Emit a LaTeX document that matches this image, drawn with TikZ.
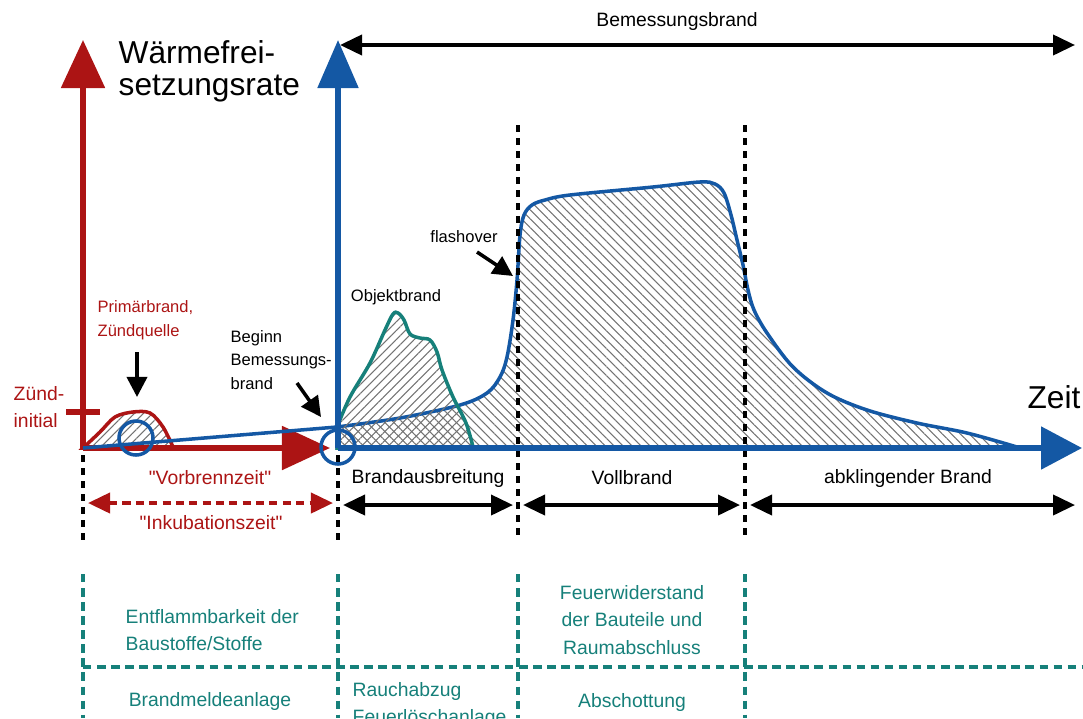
\documentclass[tikz,border=0pt]{standalone}
\usepackage{fontspec}
\setmainfont{Liberation Sans}
\usetikzlibrary{arrows.meta,patterns.meta}
\definecolor{fbred}{RGB}{172,20,20}
\definecolor{fbblue}{RGB}{20,88,164}
\definecolor{fbteal}{RGB}{22,128,122}

\begin{document}
\begin{tikzpicture}[x=0.01cm,y=-0.01cm,
  big/.style={font=\fontsize{9}{9.2}\selectfont, inner sep=0pt},
  small/.style={font=\fontsize{5.5}{7.7}\selectfont, inner sep=0pt},
  tiny/.style={font=\fontsize{4.7}{6.8}\selectfont, inner sep=0pt, align=left},
  pointer/.style={-{Triangle[length=0.2cm,width=0.2cm]}, line width=1pt},
  span/.style={{Triangle[length=0.22cm,width=0.2cm]}-{Triangle[length=0.22cm,width=0.2cm]}, line width=1.1pt},
  phase/.style={line width=1.4pt, dash pattern=on 2pt off 1.7pt},
  field/.style={fbteal, line width=1.2pt, dash pattern=on 2.4pt off 1.6pt},
  hatchA/.style={pattern={Lines[angle=-45,distance=1.8pt,line width=0.3pt]}, pattern color=gray!90!black},
  hatchB/.style={pattern={Lines[angle=45,distance=1.8pt,line width=0.3pt]}, pattern color=gray!90!black},
  ring/.style={draw=fbblue, circle, minimum size=0.34cm, inner sep=0pt, line width=1pt}]
\useasboundingbox (0,0) rectangle (1083,718);

% axes origins and tips
\coordinate (O1) at (83,448);
\coordinate (O2) at (338,448);
\coordinate (redtop) at (83,40);
\coordinate (redend) at (330,448);
\coordinate (bluetop) at (338,40);
\coordinate (blueend) at (1082,448);
\coordinate (start) at (337,427);

% design fire (hatched)
\draw [fbblue, line width=1pt, hatchA] plot[smooth, tension=0.55] coordinates {(337,427) (400,418) (460,405) (487,393) (500,377) (507,357) (513,320) (517,280) (520,235) (524,215) (532,205) (545,200) (570,195) (653,187) (700,182) (715,184) (724,193) (731,215) (737,240) (743,265) (748,290) (754,310) (767,333) (793,367) (827,393) (867,410) (917,423) (967,433) (1017,447)} -- (337,448) -- cycle;
% object fire
\draw [fbteal, line width=1pt, hatchB] plot[smooth, tension=0.55] coordinates {(337,427) (350,397) (370,363) (385,330) (393,314) (398,313) (404,320) (410,334) (420,338) (430,340) (437,352) (442,370) (453,397) (466,423) (473,447)} -- (337,448) -- cycle;
% primary fire
\draw [fbred, line width=1pt, hatchB] plot[smooth, tension=0.55] coordinates {(83,448) (100,432) (115,417) (133,412) (150,413) (163,427) (173,447)} -- cycle;

% phase borders
\foreach \x in {83,338} {
  \draw [phase] (\x,455) -- (\x,540);
}
\foreach \x in {518,745} {
  \draw [phase] (\x,125) -- (\x,540);
}

% axes
\draw [fbred, line width=1.5pt, -{Triangle[length=0.48cm,width=0.43cm]}] (O1) -- (redtop);
\draw [fbred, line width=1.5pt, -{Triangle[length=0.48cm,width=0.43cm]}] (O1) -- (redend);
\draw [fbred, line width=1.5pt] (66,412) -- (100,412);
\draw [fbblue, line width=1pt] (O1) -- (start);
\draw [fbblue, line width=1.5pt, -{Triangle[length=0.48cm,width=0.40cm]}] (O2) -- (bluetop);
\draw [fbblue, line width=1.5pt, -{Triangle[length=0.41cm,width=0.42cm]}] (O2) -- (blueend);
\node[ring] (ign) at (136,438) {};
\node[ring] (begin) at (338,447) {};

% labels
\node[big, align=left, anchor=west] (rate) at (118,71) {Wärmefrei-\\setzungsrate};
\node[big] (zeit) at (1054,397) {Zeit};
\node[small] (bmtext) at (677,22) {Bemessungsbrand};
\node[small, fbred, align=left, anchor=west] (zuend) at (13,407) {Zünd-\\initial};
\node[tiny, fbred, anchor=west] (prim) at (97,320) {Primärbrand,\\Zündquelle};
\node[tiny, anchor=west] (beginn) at (230,360) {Beginn\\Bemessungs-\\brand};
\node[tiny] (objekt) at (396,297) {Objektbrand};
\node[tiny] (flash) at (464,237) {flashover};

% pointers
\coordinate (primtail) at (137,352);
\coordinate (primtip) at (137,397);
\coordinate (begtail) at (297,383);
\coordinate (begtip) at (321,417);
\coordinate (flashtail) at (477,252);
\coordinate (flashtip) at (513,276);
\draw [pointer] (primtail) -- (primtip);
\draw [pointer] (begtail) -- (begtip);
\draw [pointer] (flashtail) -- (flashtip);

% time spans
\coordinate (bmL) at (340,45);
\coordinate (bmR) at (1075,45);
\draw [span] (bmL) -- (bmR);
\coordinate (s1) at (343,505);
\coordinate (s2) at (513,505);
\coordinate (s3) at (523,505);
\coordinate (s4) at (740,505);
\coordinate (s5) at (750,505);
\coordinate (s6) at (1075,505);
\draw [span] (s1) -- (s2);
\draw [span] (s3) -- (s4);
\draw [span] (s5) -- (s6);
\coordinate (r1) at (88,503);
\coordinate (r2) at (333,503);
\draw [span, fbred, dash pattern=on 2.3pt off 1.5pt] (r1) -- (r2);
\node[small, fbred] (vorbrenn) at (210,478) {\textquotedbl Vorbrennzeit\textquotedbl};
\node[small, fbred] (inkub) at (211,523) {\textquotedbl Inkubationszeit\textquotedbl};
\node[small] (ausbr) at (428,478) {Brandausbreitung};
\node[small] (voll) at (632,478) {Vollbrand};
\node[small] (abkl) at (908,478) {abklingender Brand};

% protective measures
\foreach \x in {83,338,518,745} {
  \draw [field] (\x,574) -- (\x,718);
}
\draw [field] (83,667) -- (1083,667);
\node[small, fbteal, align=left, anchor=west] (entfl) at (125,630) {Entflammbarkeit der\\Baustoffe/Stoffe};
\node[small, fbteal, align=center] (feuerw) at (632,620) {Feuerwiderstand\\der Bauteile und\\Raumabschluss};
\node[small, fbteal] (bma) at (210,701) {Brandmeldeanlage};
\node[small, fbteal, align=left, anchor=north west] (rauch) at (352,682) {Rauchabzug\\Feuerlöschanlage};
\node[small, fbteal] (absch) at (632,702) {Abschottung};
\end{tikzpicture}
\end{document}
